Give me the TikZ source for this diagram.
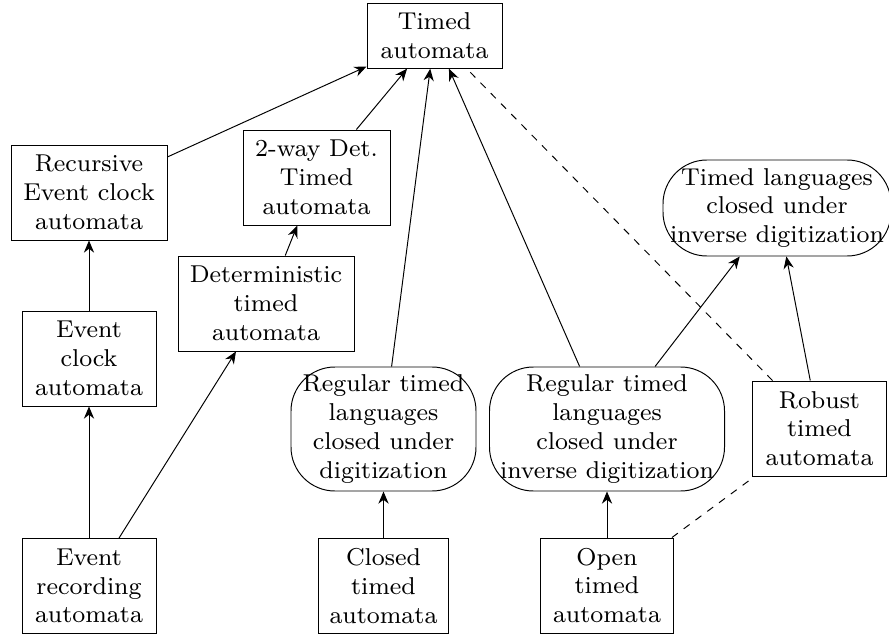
\documentclass[tikz,border=0pt]{standalone}
\usepackage{fontspec}
\setmainfont{lmroman8-regular.otf}
\usetikzlibrary{arrows.meta}
\begin{document}
\begin{tikzpicture}[x=0.41pt,y=-0.41pt,
  every node/.style={inner sep=0pt,align=center,font=\fontsize{10}{11.8}\selectfont},
  wh/.style 2 args={minimum width=#1*0.41pt,minimum height=#2*0.41pt},
  sqbox/.style={draw,line width=0.4pt},
  rbox/.style={draw,line width=0.4pt,rounded corners=18pt},
  arr/.style={line width=0.4pt,-{Stealth[length=5pt,width=4.2pt]}},
  dsh/.style={line width=0.4pt,dash pattern=on 3pt off 3pt}]
\useasboundingbox (0,0) rectangle (889,634);
\node[sqbox,wh={135}{65}] (ta) at (434.5,35.7) {Timed\\automata};
\node[sqbox,wh={156}{95}] (rec) at (89,192.5) {Recursive\\Event clock\\automata};
\node[sqbox,wh={147}{95}] (two) at (316.5,177.5) {2-way Det.\\Timed\\automata};
\node[sqbox,wh={176}{95}] (det) at (266,303.5) {Deterministic\\timed\\automata};
\node[sqbox,wh={134}{95}] (eca) at (89,358.5) {Event\\clock\\automata};
\node[sqbox,wh={134}{95}] (era) at (89,586) {Event\\recording\\automata};
\node[rbox,wh={185}{124}] (rtd) at (383.5,429) {Regular timed\\languages\\closed under\\digitization};
\node[sqbox,wh={130}{95}] (cta) at (383.5,586) {Closed\\timed\\automata};
\node[rbox,wh={235}{124}] (rtid) at (607,429) {Regular timed\\languages\\closed under\\inverse digitization};
\node[sqbox,wh={133}{95}] (ota) at (607,585.5) {Open\\timed\\automata};
\node[sqbox,wh={134}{95}] (rob) at (819.5,428.5) {Robust\\timed\\automata};
\node[rbox,wh={228}{96}] (tlid) at (777,208) {Timed languages\\closed under\\inverse digitization};
\draw[arr] (rec) -- (ta);
\draw[arr] (two) -- (ta);
\draw[arr] (det) -- (two);
\draw[arr] (eca) -- (rec);
\draw[arr] (era) -- (eca);
\draw[arr] (era) -- (det);
\draw[arr] (rtd) -- (ta);
\draw[arr] (rtid) -- (ta);
\draw[arr] (cta) -- (rtd);
\draw[arr] (ota) -- (rtid);
\draw[arr] (rtid) -- (tlid);
\draw[arr] (rob) -- (tlid);
\draw[dsh] (rob) -- (ta);
\draw[dsh] (ota) -- (rob);
\end{tikzpicture}
\end{document}
